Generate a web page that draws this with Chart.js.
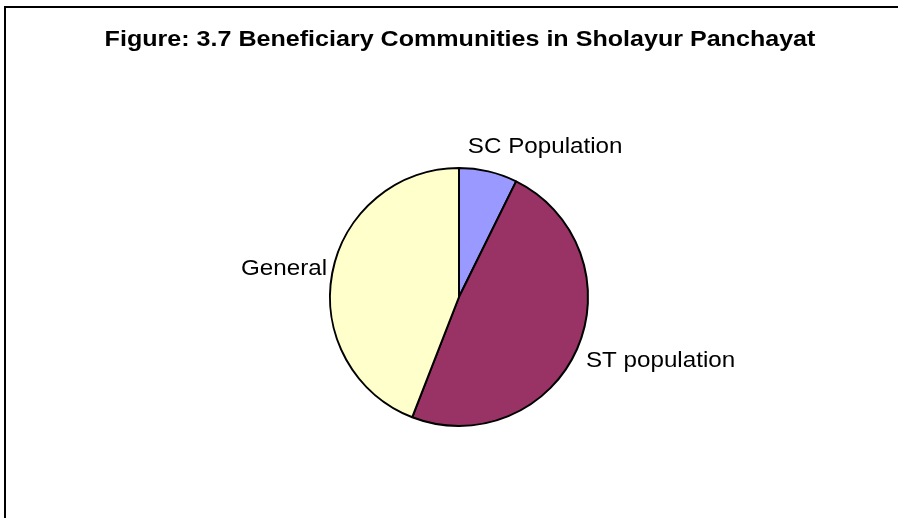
<!DOCTYPE html>
<html>
<head>
<meta charset="utf-8">
<title>Beneficiary Communities in Sholayur Panchayat</title>
<script src="https://cdn.jsdelivr.net/npm/chart.js@4.4.0/dist/chart.umd.min.js"></script>
<style>
  html, body { margin: 0; padding: 0; background: #fff; }
  canvas { display: block; }
</style>
</head>
<body>
<canvas id="pieChart" width="898" height="518"></canvas>
<script>
// data (share of beneficiaries, %)
const categories = ["SC Population", "ST population", "General"];
const shares = [7.3, 48.6, 44.1];
const sliceColors = ["#9999FF", "#993366", "#FFFFCC"];

const titleText = "Figure: 3.7 Beneficiary Communities in Sholayur Panchayat";

// small nudges so the labels sit where the original put them
const labelNudge = [[37, -4], [6, 3], [4, 0]];

// the original's text is a bit stretched sideways
const FONT = "'Liberation Sans', Arial, sans-serif";

// frame round the figure (left + top edges only are visible) and the title
const framePlugin = {
  id: "frame",
  beforeDraw(chart) {
    const ctx = chart.ctx;
    ctx.save();
    ctx.strokeStyle = "#000";
    ctx.lineWidth = 2;
    ctx.beginPath();
    ctx.moveTo(5, chart.height);
    ctx.lineTo(5, 7);
    ctx.lineTo(chart.width, 7);
    ctx.stroke();

    ctx.fillStyle = "#000";
    ctx.font = "bold 22px " + FONT;
    ctx.textAlign = "center";
    ctx.textBaseline = "alphabetic";
    ctx.translate(460, 46);
    ctx.scale(1.14, 1);
    ctx.fillText(titleText, 0, 0);
    ctx.restore();
  },
};

// category names outside each slice
const sliceLabels = {
  id: "sliceLabels",
  afterDatasetsDraw(chart) {
    const ctx = chart.ctx;
    const meta = chart.getDatasetMeta(0);
    const sx = 1.1;
    ctx.save();
    ctx.font = "22px " + FONT;
    ctx.fillStyle = "#000";
    ctx.textAlign = "center";
    ctx.textBaseline = "middle";
    meta.data.forEach((arc, i) => {
      const { x, y, startAngle, endAngle, outerRadius } = arc.getProps(
        ["x", "y", "startAngle", "endAngle", "outerRadius"], true
      );
      const mid = (startAngle + endAngle) / 2;
      const dx = Math.cos(mid);
      const dy = Math.sin(mid);
      const w = ctx.measureText(categories[i]).width * sx;
      const h = 23;
      const r = outerRadius + 10;
      const lx = x + dx * r + dx * w / 2 + labelNudge[i][0];
      const ly = y + dy * r + dy * h / 2 + labelNudge[i][1];
      ctx.save();
      ctx.translate(lx, ly);
      ctx.scale(sx, 1);
      ctx.fillText(categories[i], 0, 0);
      ctx.restore();
    });
    ctx.restore();
  },
};

new Chart(document.getElementById("pieChart"), {
  type: "pie",
  data: {
    labels: categories,
    datasets: [
      {
        data: shares,
        backgroundColor: sliceColors,
        borderColor: "#000",
        borderWidth: 2,
      },
    ],
  },
  options: {
    responsive: false,
    animation: false,
    layout: {
      padding: { top: 167, left: 20, right: 0, bottom: 91 },
    },
    plugins: {
      legend: { display: false },
      tooltip: { enabled: false },
      title: { display: false },
    },
  },
  plugins: [framePlugin, sliceLabels],
});
</script>
</body>
</html>
